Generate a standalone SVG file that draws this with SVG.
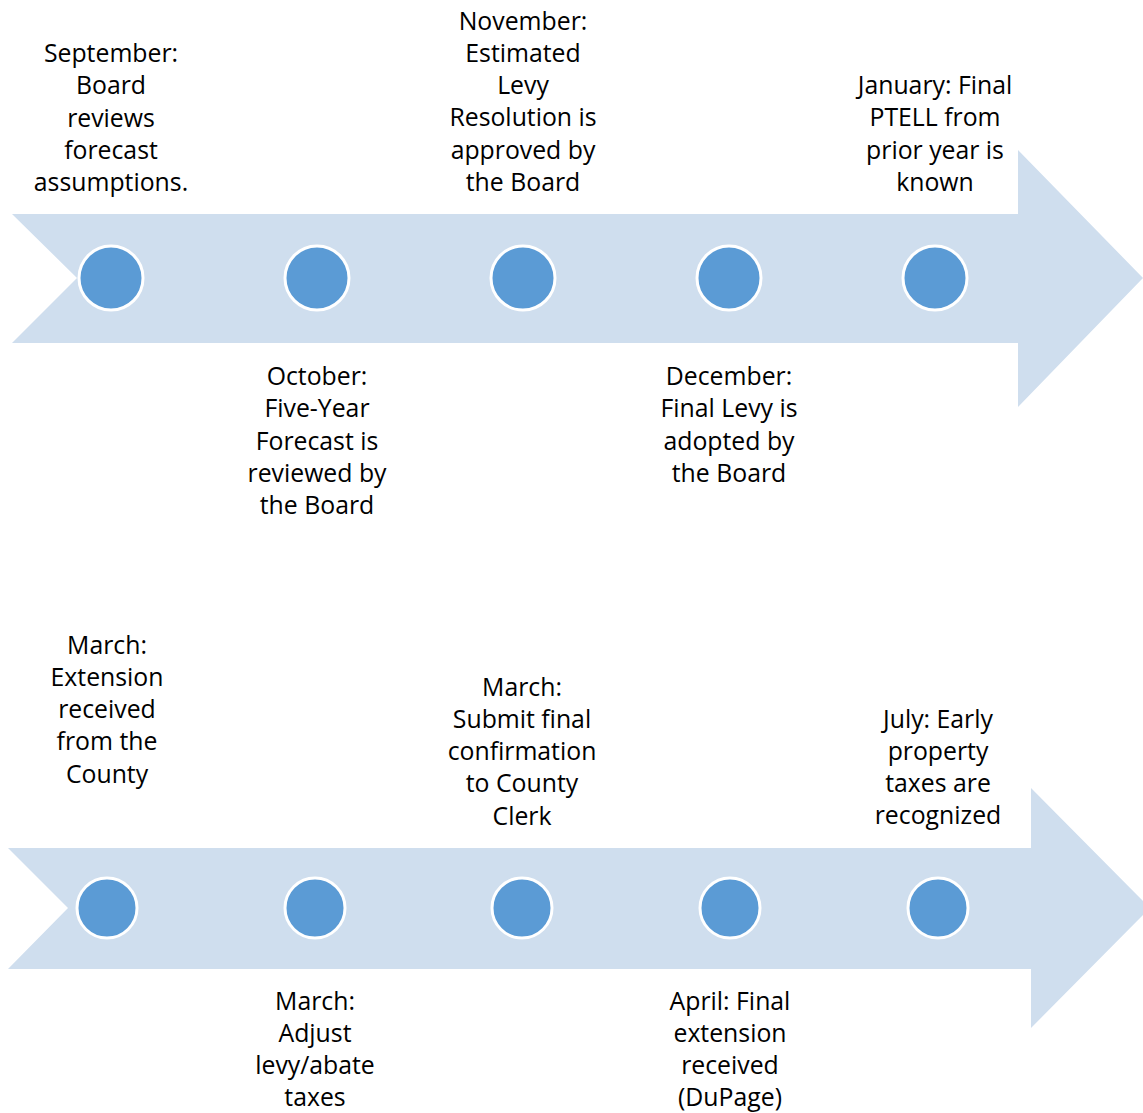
<svg xmlns="http://www.w3.org/2000/svg" width="1143" height="1113" viewBox="0 0 1143 1113">
<style>
.band{fill:#CFDEEE}
.dot{fill:#5B9BD5;stroke:#FFFFFF;stroke-width:3}
text{font-family:"Open Sans","Liberation Sans",sans-serif;font-size:24.8px;fill:#000;text-anchor:middle}
</style>
<rect width="1143" height="1113" fill="#FFFFFF"/>
<g id="connectors">
<path class="band" d="M12,214 L1018,214 L1018,150 L1143,278 L1018,407 L1018,343 L12,343 L77,278 Z"/>
<path class="band" d="M8,848 L1031,848 L1031,788 L1150,908 L1031,1028 L1031,969 L8,969 L68,908 Z"/>
</g>
<g id="n1"><circle class="dot" cx="111" cy="278" r="32"/>
<text x="111" y="62">September:<tspan x="111" dy="32.25">Board</tspan><tspan x="111" dy="32.25">reviews</tspan><tspan x="111" dy="32.25">forecast</tspan><tspan x="111" dy="32.25">assumptions.</tspan></text></g>
<g id="n2"><circle class="dot" cx="317" cy="278" r="32"/>
<text x="317" y="385">October:<tspan x="317" dy="32.25">Five-Year</tspan><tspan x="317" dy="32.25">Forecast is</tspan><tspan x="317" dy="32.25">reviewed by</tspan><tspan x="317" dy="32.25">the Board</tspan></text></g>
<g id="n3"><circle class="dot" cx="523" cy="278" r="32"/>
<text x="523" y="29.5">November:<tspan x="523" dy="32.25">Estimated</tspan><tspan x="523" dy="32.25">Levy</tspan><tspan x="523" dy="32.25">Resolution is</tspan><tspan x="523" dy="32.25">approved by</tspan><tspan x="523" dy="32.25">the Board</tspan></text></g>
<g id="n4"><circle class="dot" cx="729" cy="278" r="32"/>
<text x="729" y="385">December:<tspan x="729" dy="32.25">Final Levy is</tspan><tspan x="729" dy="32.25">adopted by</tspan><tspan x="729" dy="32.25">the Board</tspan></text></g>
<g id="n5"><circle class="dot" cx="935" cy="278" r="32"/>
<text x="935" y="94">January: Final<tspan x="935" dy="32.25">PTELL from</tspan><tspan x="935" dy="32.25">prior year is</tspan><tspan x="935" dy="32.25">known</tspan></text></g>
<g id="n6"><circle class="dot" cx="107" cy="908" r="30"/>
<text x="107" y="653.5">March:<tspan x="107" dy="32.25">Extension</tspan><tspan x="107" dy="32.25">received</tspan><tspan x="107" dy="32.25">from the</tspan><tspan x="107" dy="32.25">County</tspan></text></g>
<g id="n7"><circle class="dot" cx="315" cy="908" r="30"/>
<text x="315" y="1009.5">March:<tspan x="315" dy="32.25">Adjust</tspan><tspan x="315" dy="32.25">levy/abate</tspan><tspan x="315" dy="32.25">taxes</tspan></text></g>
<g id="n8"><circle class="dot" cx="522" cy="908" r="30"/>
<text x="522" y="695.5">March:<tspan x="522" dy="32.25">Submit final</tspan><tspan x="522" dy="32.25">confirmation</tspan><tspan x="522" dy="32.25">to County</tspan><tspan x="522" dy="32.25">Clerk</tspan></text></g>
<g id="n9"><circle class="dot" cx="730" cy="908" r="30"/>
<text x="730" y="1009.5">April: Final<tspan x="730" dy="32.25">extension</tspan><tspan x="730" dy="32.25">received</tspan><tspan x="730" dy="32.25">(DuPage)</tspan></text></g>
<g id="n10"><circle class="dot" cx="938" cy="908" r="30"/>
<text x="938" y="727.5">July: Early<tspan x="938" dy="32.25">property</tspan><tspan x="938" dy="32.25">taxes are</tspan><tspan x="938" dy="32.25">recognized</tspan></text></g>
</svg>
